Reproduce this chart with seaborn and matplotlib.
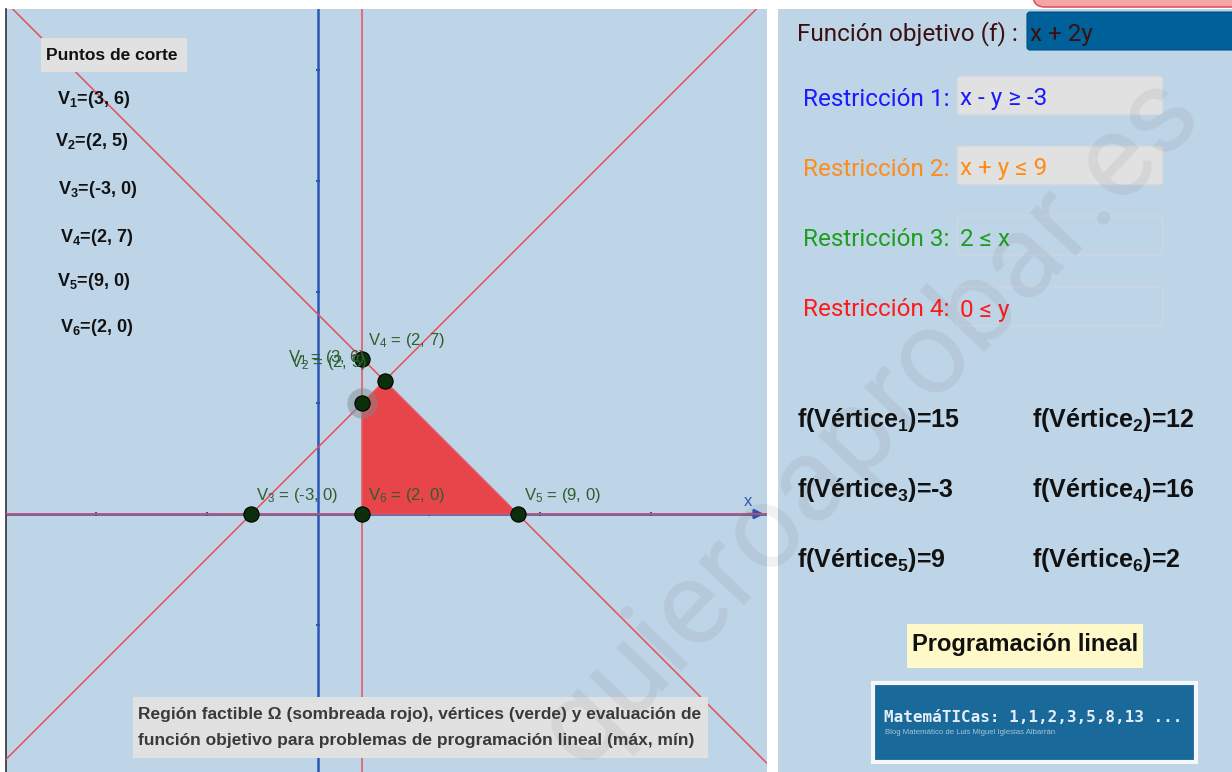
import pandas as pd
import matplotlib.pyplot as plt
import seaborn as sns
from matplotlib.patches import Rectangle, FancyBboxPatch
from matplotlib import font_manager

# restricciones: a*x + b*y = c
restr_a = [1, 1, 1, 0]
restr_b = [-1, 1, 0, 1]
restr_c = [-3, 9, 2, 0]
restr_texto = ['x - y ≥ -3', 'x + y ≤ 9', '2 ≤ x', '0 ≤ y']
restr_color = ['#1a1aff', '#ff8c1a', '#1e9e1e', '#ff1a1a']
restr_caja = [True, True, False, False]

# vertices (puntos de corte) y valor de la funcion objetivo f = x + 2y
vert_x = [3, 2, -3, 2, 9, 2]
vert_y = [6, 5, 0, 7, 0, 0]
f_valores = [15, 12, -3, 16, 9, 2]

# region factible
region_x = [2, 9, 3, 2]
region_y = [0, 0, 6, 5]

xticks = [-10, -5, 5, 10, 15]
yticks = [-10, -5, 5, 10, 15, 20]

sns.set_style('white')
plt.rcParams['font.family'] = ['Liberation Sans', 'DejaVu Sans']
plt.rcParams['mathtext.default'] = 'regular'

nombres = {f.name for f in font_manager.fontManager.ttflist}
narrow = 'Liberation Sans Narrow' if 'Liberation Sans Narrow' in nombres else 'Liberation Sans'

W, H = 1232, 772
fig = plt.figure(figsize=(W / 100, H / 100), dpi=100, facecolor='white')

# ---- vista grafica ----
ax = fig.add_axes([6 / W, 0, 761 / W, 763 / H])
ax.set_facecolor('#bed4e7')
xlim = (-14.05, 20.23)
ylim = (-11.62, 22.75)
ax.set_xlim(*xlim)
ax.set_ylim(*ylim)
ax.set_xticks([])
ax.set_yticks([])
for s in ['top', 'right', 'bottom']:
    ax.spines[s].set_visible(False)
ax.spines['left'].set_color('#333333')
ax.spines['left'].set_linewidth(1.2)

# ejes
ax.axhline(0, color='#2a56b5', lw=1.8, zorder=1)
ax.axvline(0, color='#2a56b5', lw=1.8, zorder=1)
ax.scatter(xticks, [0] * len(xticks), marker='|', s=12, color='#2a56b5', zorder=1)
ax.scatter([0] * len(yticks), yticks, marker='_', s=12, color='#2a56b5', zorder=1)
ax.annotate('', xy=(xlim[1], 0), xytext=(xlim[1] - 1.0, 0),
            arrowprops=dict(arrowstyle='-|>', color='#2a56b5', lw=1.8, mutation_scale=14), zorder=1)
ax.text(xlim[1] - 0.85, 0.55, 'x', color='#3355b5', fontsize=12, ha='center', va='center')

# region factible
ax.fill(region_x, region_y, color='#e8454b', lw=0, zorder=2)

# rectas de las restricciones
filas = []
for i, (a, b, c) in enumerate(zip(restr_a, restr_b, restr_c)):
    if b != 0:
        for xv in xlim:
            filas.append({'r': i, 'x': xv, 'y': (c - a * xv) / b})
    else:
        for yv in ylim:
            filas.append({'r': i, 'x': c / a, 'y': yv})
lineas = pd.DataFrame(filas)
sns.lineplot(data=lineas, x='x', y='y', units='r', estimator=None, sort=False,
             color='#e8505a', lw=1.1, ax=ax, zorder=3)
ax.set_xlabel('')
ax.set_ylabel('')

# vertices
ax.scatter([vert_x[1]], [vert_y[1]], s=480, color='#7a8a86', alpha=0.45, lw=0, zorder=4)
sns.scatterplot(x=vert_x, y=vert_y, s=120, color='#0b2e0b', edgecolor='black',
                linewidth=0.8, ax=ax, zorder=5)

lab_dx = [-97, -72, 5, 6, 6, 6]
lab_dy = [23, 41, 19, 18, 19, 19]
for i in range(len(vert_x)):
    ax.annotate(f'V$_{i + 1}$ = ({vert_x[i]}, {vert_y[i]})', (vert_x[i], vert_y[i]),
                xytext=(lab_dx[i], lab_dy[i]), textcoords='offset pixels',
                ha='left', va='center', fontsize=12, color='#2e5e2e', zorder=6)

# ---- capa en pixeles ----
ui = fig.add_axes([0, 0, 1, 1])
ui.set_xlim(0, W)
ui.set_ylim(H, 0)
ui.axis('off')
ui.patch.set_alpha(0)

# caja puntos de corte
ui.add_patch(Rectangle((41, 38), 146, 34, color='#e1e1e1', lw=0))
ui.text(46, 55, 'Puntos de corte', fontsize=12.5, fontweight='bold', va='center', color='#111111')
list_x = [57, 55, 58, 60, 57, 60]
list_y = [100, 141, 189, 238, 282, 328]
for i in range(len(vert_x)):
    ui.text(list_x[i], list_y[i], f'V$_{i + 1}$=({vert_x[i]}, {vert_y[i]})',
            fontsize=13, fontweight='bold', va='center', color='#111111')

# leyenda inferior
ui.add_patch(Rectangle((133, 697), 575, 61, color='#e1e1e1', lw=0))
ui.text(138, 715, 'Región factible Ω (sombreada rojo), vértices (verde) y evaluación de',
        family=[narrow, 'DejaVu Sans'], fontsize=12.5, fontweight='bold', color='#3a3a3a', va='center')
ui.text(138, 741, 'función objetivo para problemas de programación lineal (máx, mín)',
        family=[narrow, 'DejaVu Sans'], fontsize=12.5, fontweight='bold', color='#3a3a3a', va='center')

# ---- panel derecho ----
ui.add_patch(Rectangle((778, 9), W - 778, H - 9, color='#bed4e7', lw=0))
ui.add_patch(FancyBboxPatch((1033, -30), 230, 37, boxstyle='round,pad=0,rounding_size=12',
                            fc='#f5a5a5', ec='#d85a5a', lw=1.2))

ui.text(797, 34, 'Función objetivo (f) :', family=['Roboto', 'DejaVu Sans'], fontsize=17.5,
        color='#3b1010', va='center')
ui.add_patch(FancyBboxPatch((1027, 12), 215, 38, boxstyle='round,pad=0,rounding_size=3',
                            fc='#00619a', ec='#005080', lw=0.8))
ui.text(1030, 34, 'x + 2y', family=['Roboto', 'DejaVu Sans'], fontsize=17.5, color='#3b1010', va='center')

caja_y = [76, 146, 216, 287]
for i in range(len(restr_texto)):
    fc = '#e1e1e1' if restr_caja[i] else 'none'
    ui.add_patch(FancyBboxPatch((957, caja_y[i]), 206, 39, boxstyle='round,pad=0,rounding_size=4',
                                fc=fc, ec='#cdd8e2', lw=1.0))
    ui.text(803, caja_y[i] + 23, f'Restricción {i + 1}:', family=['Roboto', 'DejaVu Sans'],
            fontsize=17.5, color=restr_color[i], va='center')
    ui.text(960, caja_y[i] + 23, restr_texto[i], family=['Roboto', 'DejaVu Sans'],
            fontsize=17.5, color=restr_color[i], va='center')

fx = [797, 1032]
fy = [420, 490, 560]
for i, v in enumerate(f_valores):
    ui.text(fx[i % 2], fy[i // 2], f'f(Vértice$_{i + 1}$)={v}', fontsize=18,
            fontweight='bold', color='#111111', va='center')

ui.add_patch(Rectangle((907, 624), 236, 44, color='#fff8c8', lw=0))
ui.text(1025, 645, 'Programación lineal', fontsize=17, fontweight='bold', color='#111111',
        ha='center', va='center')

ui.add_patch(Rectangle((873, 683), 323, 79, fc='#19699a', ec='#f4f8fb', lw=3))
ui.text(884, 718, 'MatemáTICas: 1,1,2,3,5,8,13 ...', family=['DejaVu Sans Mono'], fontsize=11.5,
        fontweight='bold', color='#e6eef5', va='center')
ui.text(885, 732, 'Blog Matemático de Luis Miguel Iglesias Albarrán', fontsize=5.6,
        color='#a8c6dc', va='center')

# marca de agua
ui.text(870, 420, 'quieroaprobar.es', family=['Roboto', 'DejaVu Sans'], fontsize=86,
        color='#4a4a4a', alpha=0.08, rotation=46.5, rotation_mode='anchor',
        ha='center', va='center')

fig.savefig('out.png', dpi=100)
